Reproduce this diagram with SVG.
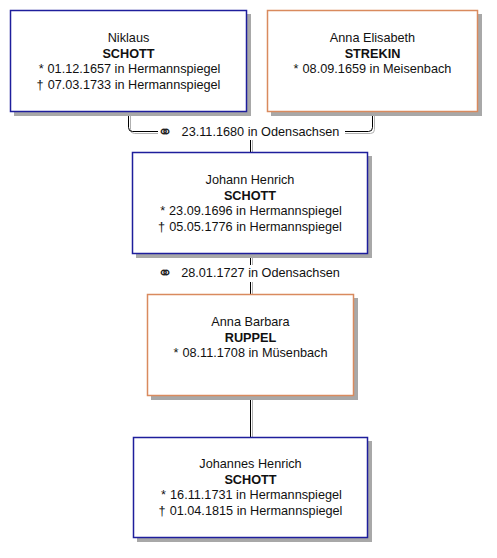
<svg xmlns="http://www.w3.org/2000/svg" width="497" height="558" viewBox="0 0 497 558">
<style>
  .shadow { fill: #a8a8a8; }
  .box { fill: #ffffff; stroke-width: 1.5; }
  .m { stroke: #1e1e9c; }
  .f { stroke: #d98a5e; }
  .t { font-family: "Liberation Sans", Arial, sans-serif; font-size: 12.7px; fill: #111; text-anchor: middle; }
  .b { font-weight: bold; }
  .sym { font-family: "DejaVu Sans", sans-serif; font-size: 18px; fill: #222; text-anchor: middle; }
  .ln { fill: none; stroke: #000; stroke-width: 1; }
  .lns { fill: none; stroke: #b0b0b0; stroke-width: 1; }
</style>
<rect width="497" height="558" fill="#ffffff"/>
<g id="connectors">
  <path class="lns" d="M130.5,112 V129.5 Q130.5,133.5 134.5,133.5 H158"/>
  <path class="ln" d="M128.5,112 V127.5 Q128.5,131.5 132.5,131.5 H158"/>
  <path class="lns" d="M374.5,112 V129.5 Q374.5,133.5 370.5,133.5 H345"/>
  <path class="ln" d="M372.5,112 V127.5 Q372.5,131.5 368.5,131.5 H345"/>
  <text class="sym" x="165" y="137.5">⚭</text>
  <text class="t" x="260.5" y="136">23.11.1680 in Odensachsen</text>
  <path class="lns" d="M252.5,140 V152"/>
  <path class="ln" d="M250.5,140 V152"/>
  <path class="lns" d="M252.5,254 V265 M252.5,282 V294"/>
  <path class="ln" d="M250.5,254 V265 M250.5,282 V294"/>
  <text class="sym" x="165" y="278.5">⚭</text>
  <text class="t" x="260.5" y="277">28.01.1727 in Odensachsen</text>
  <path class="lns" d="M252.5,396 V437"/>
  <path class="ln" d="M250.5,396 V437"/>
</g>
<g id="niklaus">
  <rect class="shadow" x="14" y="14" width="237" height="102"/>
  <rect class="box m" x="10.5" y="10.5" width="236" height="101"/>
  <text class="t" x="128.5" y="42">Niklaus</text>
  <text class="t b" x="128.5" y="57.5">SCHOTT</text>
  <text class="t" x="129.5" y="73">*<tspan dx="4">01.12.1657 in Hermannspiegel</tspan></text>
  <text class="t" x="128.5" y="88.5">†<tspan dx="4">07.03.1733 in Hermannspiegel</tspan></text>
</g>
<g id="anna-elisabeth">
  <rect class="shadow" x="271" y="14" width="211" height="102"/>
  <rect class="box f" x="267.5" y="10.5" width="210" height="101"/>
  <text class="t" x="372.5" y="42">Anna Elisabeth</text>
  <text class="t b" x="372.5" y="57.5">STREKIN</text>
  <text class="t" x="372.5" y="73">*<tspan dx="4">08.09.1659 in Meisenbach</tspan></text>
</g>
<g id="johann-henrich">
  <rect class="shadow" x="136" y="156" width="236" height="102"/>
  <rect class="box m" x="132.5" y="152.5" width="235" height="101"/>
  <text class="t" x="250" y="184">Johann Henrich</text>
  <text class="t b" x="250" y="199.5">SCHOTT</text>
  <text class="t" x="251" y="215">*<tspan dx="4">23.09.1696 in Hermannspiegel</tspan></text>
  <text class="t" x="250" y="230.5">†<tspan dx="4">05.05.1776 in Hermannspiegel</tspan></text>
</g>
<g id="anna-barbara">
  <rect class="shadow" x="151" y="298" width="207" height="102"/>
  <rect class="box f" x="147.5" y="294.5" width="206" height="101"/>
  <text class="t" x="250.5" y="326">Anna Barbara</text>
  <text class="t b" x="250.5" y="341.5">RUPPEL</text>
  <text class="t" x="250.5" y="357">*<tspan dx="4">08.11.1708 in Müsenbach</tspan></text>
</g>
<g id="johannes-henrich">
  <rect class="shadow" x="137" y="441" width="235" height="101"/>
  <rect class="box m" x="133.5" y="437.5" width="234" height="100"/>
  <text class="t" x="250.5" y="468">Johannes Henrich</text>
  <text class="t b" x="250.5" y="483.5">SCHOTT</text>
  <text class="t" x="251.5" y="499">*<tspan dx="4">16.11.1731 in Hermannspiegel</tspan></text>
  <text class="t" x="250.5" y="514.5">†<tspan dx="4">01.04.1815 in Hermannspiegel</tspan></text>
</g>
</svg>
